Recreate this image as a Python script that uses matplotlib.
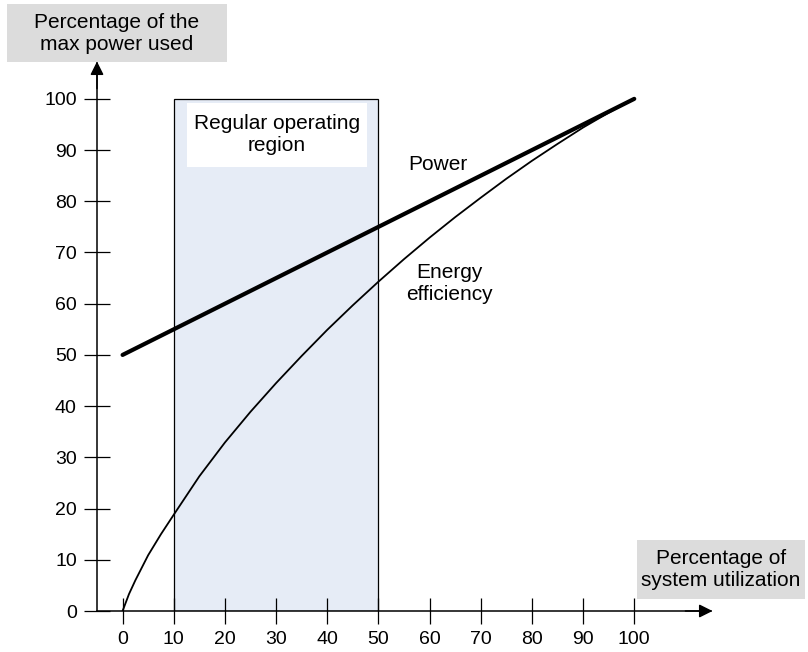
import matplotlib.pyplot as plt
from matplotlib.patches import Rectangle

plt.rcParams['font.family'] = ['Liberation Sans', 'DejaVu Sans']

# data
util = [0, 100]
power = [50, 100]

eff_x = [0, 1.25, 2.5, 5, 7.5, 10, 15, 20, 25, 30, 35, 40, 45, 50, 55, 60,
         65, 70, 75, 80, 85, 90, 95, 100]
eff_y = [0, 3.3, 6.0, 10.9, 15.0, 18.8, 26.3, 32.9, 38.9, 44.5, 49.8, 54.9,
         59.7, 64.3, 68.7, 72.9, 76.9, 80.7, 84.4, 87.9, 91.2, 94.4, 97.3, 100]

region = (10, 50)
x_ticks = [0, 10, 20, 30, 40, 50, 60, 70, 80, 90, 100]
y_ticks = [0, 10, 20, 30, 40, 50, 60, 70, 80, 90, 100]

fig = plt.figure(figsize=(8.08, 6.52), dpi=100)
ax = fig.add_axes([97 / 808, 41 / 652, 614 / 808, 548 / 652])
ax.set_xlim(-5, 115)
ax.set_ylim(0, 107)

# regular operating region
ax.add_patch(Rectangle((region[0], 0), region[1] - region[0], 100,
                       facecolor='#e6ecf6', edgecolor='black', lw=0.9, zorder=1))
ax.add_patch(Rectangle((12.5, 86.7), 35.2, 12.5, facecolor='white',
                       edgecolor='none', zorder=2))
ax.text(30.1, 93.0, 'Regular operating\nregion', ha='center', va='center',
        fontsize=15, linespacing=1.2, zorder=3)

ax.plot(util, power, color='black', lw=3, solid_capstyle='round', zorder=4)
ax.plot(eff_x, eff_y, color='black', lw=1.3, zorder=4)

ax.text(61.6, 87.1, 'Power', ha='center', va='center', fontsize=15)
ax.text(63.8, 64.0, 'Energy\nefficiency', ha='center', va='center',
        fontsize=15, linespacing=1.2)

# axes with arrows
for s in ['top', 'right']:
    ax.spines[s].set_visible(False)
ax.spines['left'].set_linewidth(1.1)
ax.spines['bottom'].set_linewidth(1.1)
ax.set_xticks(x_ticks)
ax.set_yticks(y_ticks)
ax.tick_params(direction='inout', length=19, width=0.9, labelsize=14, pad=5)
ax.annotate('', xy=(115.3, 0), xytext=(110, 0), annotation_clip=False,
            arrowprops=dict(arrowstyle='-|>', color='black', lw=1.1,
                            mutation_scale=20, shrinkA=0, shrinkB=0))
ax.annotate('', xy=(-5, 107.3), xytext=(-5, 102), annotation_clip=False,
            arrowprops=dict(arrowstyle='-|>', color='black', lw=1.1,
                            mutation_scale=20, shrinkA=0, shrinkB=0))

# axis titles in gray boxes
fig.patches.append(Rectangle((7 / 808, 1 - 62 / 652), 220 / 808, 58 / 652,
                             transform=fig.transFigure, facecolor='#dcdcdc',
                             edgecolor='none'))
fig.text(117 / 808, 1 - 33 / 652, 'Percentage of the\nmax power used',
         ha='center', va='center', fontsize=15, linespacing=1.2)
fig.patches.append(Rectangle((637 / 808, 1 - 599 / 652), 168 / 808, 59 / 652,
                             transform=fig.transFigure, facecolor='#dcdcdc',
                             edgecolor='none'))
fig.text(721 / 808, 1 - 570 / 652, 'Percentage of\nsystem utilization',
         ha='center', va='center', fontsize=15, linespacing=1.2)

fig.savefig('out.png', dpi=100)
